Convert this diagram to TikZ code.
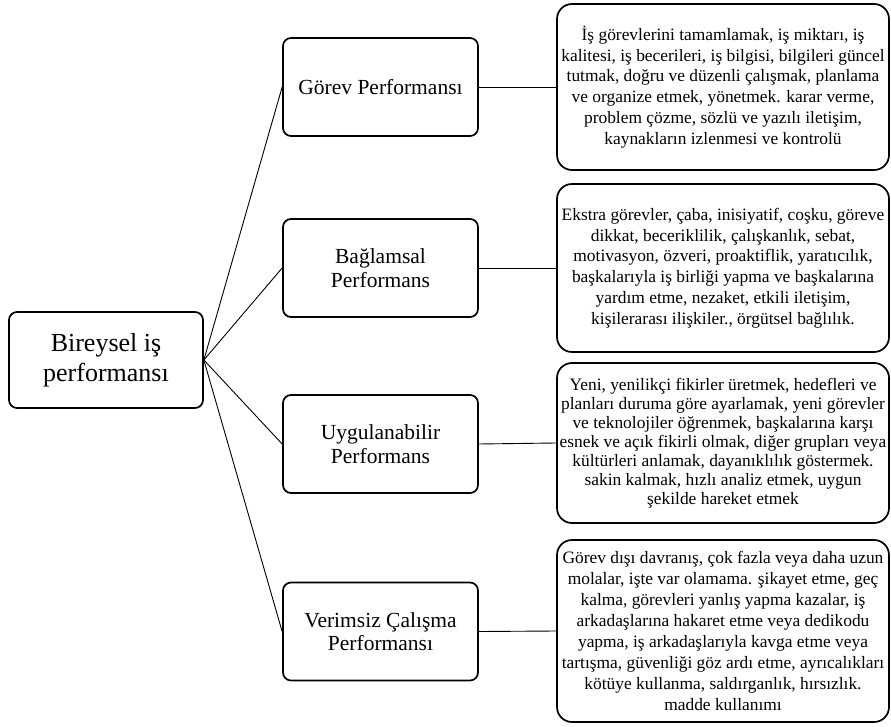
\documentclass[tikz,border=0pt]{standalone}
\usepackage{fontspec}
\setmainfont{LiberationSerif}[Extension=.ttf, UprightFont=*-Regular, BoldFont=*-Bold, ItalicFont=*-Italic]
\begin{document}
\begin{tikzpicture}[x=1pt,y=-1pt,
  box/.style={draw=black, line width=1.7pt, rounded corners=8pt, fill=white,
    align=center, inner sep=0pt},
  rootbox/.style={box, minimum width=194pt, minimum height=96pt,
    font=\fontsize{26}{30}\selectfont},
  midbox/.style={box, minimum width=195pt, minimum height=98pt,
    font=\fontsize{21.5}{23.5}\selectfont},
  textbox/.style={box, rounded corners=15pt, minimum width=332pt},
  link/.style={draw=black, line width=0.9pt}]
\useasboundingbox (0,0) rectangle (891,727);

% root
\node[rootbox] (root) at (106,360) {Bireysel iş\\performansı};

% dimensions
\node[midbox] (gorev) at (380.5,87) {Görev Performansı};
\node[midbox] (bag) at (380.5,268) {Bağlamsal\\Performans};
\node[midbox] (uyg) at (380.5,444) {Uygulanabilir\\Performans};
\node[midbox] (ver) at (380.5,631.5) {Verimsiz Çalışma\\Performansı};

% descriptions
\node[textbox, minimum height=166pt, font=\fontsize{17.4}{20.8}\selectfont] (d1) at (723,87)
  {İş görevlerini tamamlamak, iş miktarı, iş\\
   kalitesi, iş becerileri, iş bilgisi, bilgileri güncel\\
   tutmak, doğru ve düzenli çalışmak, planlama\\
   ve organize etmek, yönetmek. karar verme,\\
   problem çözme, sözlü ve yazılı iletişim,\\
   kaynakların izlenmesi ve kontrolü};
\node[textbox, minimum height=168pt, font=\fontsize{17.4}{20.8}\selectfont] (d2) at (723,268)
  {Ekstra görevler, çaba, inisiyatif, coşku, göreve\\
   dikkat, beceriklilik, çalışkanlık, sebat,\\
   motivasyon, özveri, proaktiflik, yaratıcılık,\\
   başkalarıyla iş birliği yapma ve başkalarına\\
   yardım etme, nezaket, etkili iletişim,\\
   kişilerarası ilişkiler., örgütsel bağlılık.};
\node[textbox, minimum height=160pt, font=\fontsize{17.4}{19}\selectfont] (d3) at (723,443)
  {Yeni, yenilikçi fikirler üretmek, hedefleri ve\\
   planları duruma göre ayarlamak, yeni görevler\\
   ve teknolojiler öğrenmek, başkalarına karşı\\
   esnek ve açık fikirli olmak, diğer grupları veya\\
   kültürleri anlamak, dayanıklılık göstermek.\\
   sakin kalmak, hızlı analiz etmek, uygun\\
   şekilde hareket etmek};
\node[textbox, minimum height=182pt, font=\fontsize{17.4}{21}\selectfont] (d4) at (723,631)
  {Görev dışı davranış, çok fazla veya daha uzun\\
   molalar, işte var olamama. şikayet etme, geç\\
   kalma, görevleri yanlış yapma kazalar, iş\\
   arkadaşlarına hakaret etme veya dedikodu\\
   yapma, iş arkadaşlarıyla kavga etme veya\\
   tartışma, güvenliği göz ardı etme, ayrıcalıkları\\
   kötüye kullanma, saldırganlık, hırsızlık.\\
   madde kullanımı};

% connectors
\foreach \n in {gorev,bag,uyg,ver}
  \draw[link] (root.east) -- (\n.west);
\draw[link] (gorev.east) -- (d1.west);
\draw[link] (bag.east) -- (d2.west);
\draw[link] (uyg.east) -- (d3.west);
\draw[link] (ver.east) -- (d4.west);
\end{tikzpicture}
\end{document}
